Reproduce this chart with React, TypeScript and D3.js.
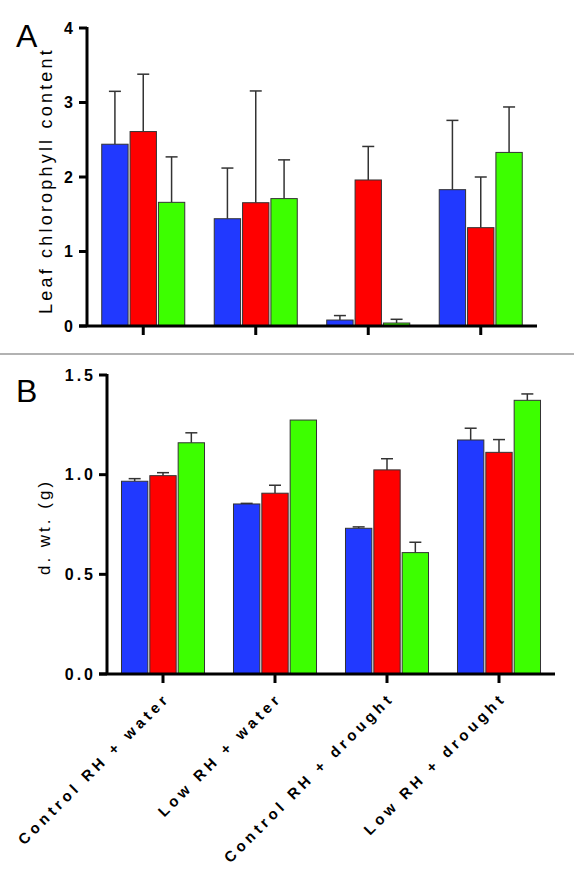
import React from "react";
import * as d3 from "d3";

const groups = ["Control RH + water", "Low RH + water", "Control RH + drought", "Low RH + drought"];
const seriesColors = ["#2139ff", "#ff0000", "#3dff00"];

// Panel A: leaf chlorophyll content (mean, error)
const chlBlue = [2.44, 1.44, 0.08, 1.83];
const chlBlueErr = [0.71, 0.68, 0.06, 0.93];
const chlRed = [2.61, 1.655, 1.96, 1.32];
const chlRedErr = [0.77, 1.5, 0.45, 0.68];
const chlGreen = [1.66, 1.71, 0.04, 2.33];
const chlGreenErr = [0.61, 0.52, 0.05, 0.61];
const chlTicks = [0, 1, 2, 3, 4];

// Panel B: dry weight (g)
const dwBlue = [0.967, 0.853, 0.731, 1.174];
const dwBlueErr = [0.013, 0.003, 0.007, 0.059];
const dwRed = [0.995, 0.907, 1.024, 1.112];
const dwRedErr = [0.015, 0.04, 0.056, 0.064];
const dwGreen = [1.16, 1.274, 0.609, 1.373];
const dwGreenErr = [0.05, 0, 0.052, 0.032];
const dwTicks = [0, 0.5, 1.0, 1.5];

const FONT = "'Liberation Sans', Arial, Helvetica, sans-serif";

type PanelProps = {
  means: number[][];
  errs: number[][];
  yMax: number;
  ticks: number[];
  tickFmt: (v: number) => string;
  xLeft: number;
  xRight: number;
  yTop: number;
  yBottom: number;
  tickLs: number;
  showCats: boolean;
};

function Panel(p: PanelProps) {
  const y = d3.scaleLinear().domain([0, p.yMax]).range([p.yBottom, p.yTop]);
  const x = d3.scaleBand<string>().domain(groups).range([p.xLeft, p.xRight]);
  const inner = d3
    .scaleBand<number>()
    .domain([0, 1, 2])
    .range([-42.5, 42.5])
    .paddingInner(0.07)
    .paddingOuter(0.035);
  const bw = inner.bandwidth();
  return (
    <g>
      {groups.map((g, gi) => {
        const cx = (x(g) as number) + x.bandwidth() / 2;
        return (
          <g key={g}>
            {p.means.map((ser, si) => {
              const bx = cx + (inner(si) as number);
              const v = ser[gi];
              const e = p.errs[si][gi];
              const mid = bx + bw / 2;
              return (
                <g key={si}>
                  {e > 0 && (
                    <g stroke="#333" strokeWidth={1.5}>
                      <line x1={mid} x2={mid} y1={y(v)} y2={y(v + e)} />
                      <line x1={mid - 6} x2={mid + 6} y1={y(v + e)} y2={y(v + e)} />
                    </g>
                  )}
                  <rect
                    x={bx}
                    y={y(v)}
                    width={bw}
                    height={y(0) - y(v)}
                    fill={seriesColors[si]}
                    stroke="#333"
                    strokeWidth={1}
                  />
                </g>
              );
            })}
            <line x1={cx} x2={cx} y1={p.yBottom} y2={p.yBottom + 9} stroke="#000" strokeWidth={3} />
            {p.showCats && (
              <text
                transform={`translate(${cx + 8},${p.yBottom + 25}) rotate(-45)`}
                textAnchor="end"
                fontFamily={FONT}
                fontWeight="bold"
                fontSize={15}
                letterSpacing={4}
                fill="#000"
              >
                {g}
              </text>
            )}
          </g>
        );
      })}
      {/* axes */}
      <line x1={p.xLeft} x2={p.xLeft} y1={p.yTop - 1} y2={p.yBottom} stroke="#000" strokeWidth={3} />
      <line x1={p.xLeft - 8} x2={p.xRight} y1={p.yBottom} y2={p.yBottom} stroke="#000" strokeWidth={3} />
      {p.ticks.map((t) => (
        <g key={t}>
          <line x1={p.xLeft - 8} x2={p.xLeft} y1={y(t)} y2={y(t)} stroke="#000" strokeWidth={3} />
          <text
            x={p.xLeft - 14 + p.tickLs}
            y={y(t)}
            dy="0.36em"
            textAnchor="end"
            fontFamily={FONT}
            fontWeight="bold"
            fontSize={16}
            letterSpacing={p.tickLs}
            fill="#000"
          >
            {p.tickFmt(t)}
          </text>
        </g>
      ))}
    </g>
  );
}

export default function App() {
  return (
    <svg
      width={574}
      height={878}
      style={{ position: "absolute", left: 0, top: 0, background: "#fff" }}
    >
      <rect width={574} height={878} fill="#fff" />
      <text x={16} y={47} fontFamily={FONT} fontSize={32} fill="#000">A</text>
      <text
        transform="translate(52,180.5) rotate(-90)"
        textAnchor="middle"
        fontFamily={FONT}
        fontSize={18}
        letterSpacing={3.2}
        fill="#000"
      >
        Leaf chlorophyll content
      </text>
      <Panel
        means={[chlBlue, chlRed, chlGreen]}
        errs={[chlBlueErr, chlRedErr, chlGreenErr]}
        yMax={4}
        ticks={chlTicks}
        tickFmt={(v) => d3.format("d")(v)}
        xLeft={87}
        xRight={537}
        yTop={28}
        yBottom={326}
        tickLs={0}
        showCats={false}
      />
      <line x1={0} x2={574} y1={354} y2={354} stroke="#999" strokeWidth={1.5} />
      <text x={16} y={402} fontFamily={FONT} fontSize={32} fill="#000">B</text>
      <text
        transform="translate(50,527) rotate(-90)"
        textAnchor="middle"
        fontFamily={FONT}
        fontSize={17}
        letterSpacing={3}
        fill="#000"
      >
        d. wt. (g)
      </text>
      <Panel
        means={[dwBlue, dwRed, dwGreen]}
        errs={[dwBlueErr, dwRedErr, dwGreenErr]}
        yMax={1.5}
        ticks={dwTicks}
        tickFmt={(v) => d3.format(".1f")(v)}
        xLeft={107}
        xRight={555}
        yTop={375}
        yBottom={674}
        tickLs={3}
        showCats={true}
      />
    </svg>
  );
}
